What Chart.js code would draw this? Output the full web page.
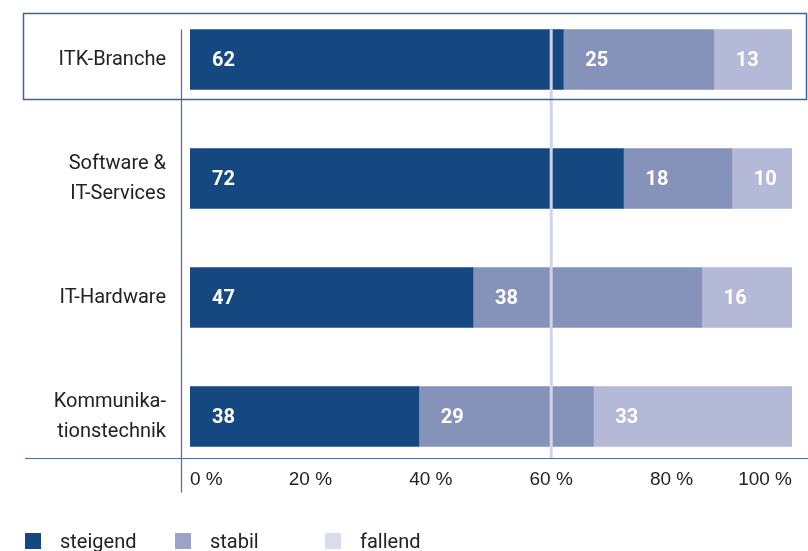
<!DOCTYPE html>
<html>
<head>
<meta charset="utf-8">
<script src="https://cdn.jsdelivr.net/npm/chart.js@4/dist/chart.umd.min.js"></script>
<style>
  body { margin: 0; background: #fff; }
  #wrap { position: relative; width: 808px; height: 551px; }
  #legend { position: absolute; left: 25px; top: 529px; display: flex;
    font-family: "Liberation Sans Narrow", "Roboto", sans-serif; font-size: 20px; color: #222; }
  #legend .item { display: flex; align-items: center; width: 150px; }
  #legend .box { width: 16px; height: 16px; margin-right: 19px; }
</style>
</head>
<body>
<div id="wrap">
  <canvas id="chart" width="808" height="551"></canvas>
  <div id="legend"></div>
</div>
<script>
const categories = ['ITK-Branche', ['Software &', 'IT-Services'], 'IT-Hardware', ['Kommunika-', 'tionstechnik']]
const steigend = [62, 72, 47, 38]
const stabil = [25, 18, 38, 29]
const fallend = [13, 10, 16, 33]
const xTicks = [0, 20, 40, 60, 80, 100]
const markLine = 60

const seriesNames = ['steigend', 'stabil', 'fallend']
const seriesColors = ['#154880', '#8592ba', '#b3b9d6']
const legendColors = ['#154880', '#9ba3c8', '#d9dcea']

// decorations: row box, axis lines, 60% marker, value labels
const decor = {
  id: 'decor',
  afterLayout(chart) {
    // pull the x tick labels up close to the axis line
    chart.scales.x.top -= 8
  },
  afterDatasetsDraw(chart) {
    const { ctx, chartArea, scales } = chart
    const first = chart.getDatasetMeta(0).data[0]
    const last = chart.getDatasetMeta(0).data[categories.length - 1]
    const half = first.height / 2
    const axisY = last.y + half + 12
    ctx.save()
    // 60 % line
    const mx = scales.x.getPixelForValue(markLine)
    ctx.strokeStyle = '#d2d5e9'
    ctx.lineWidth = 3
    ctx.beginPath()
    ctx.moveTo(mx, first.y - half)
    ctx.lineTo(mx, axisY)
    ctx.stroke()
    // box round first row
    ctx.strokeStyle = '#3d64a0'
    ctx.lineWidth = 1.5
    ctx.strokeRect(23.5, first.y - half - 16, chart.width - 25, first.height + 26)
    // axis lines
    ctx.strokeStyle = '#4a6fa5'
    ctx.lineWidth = 1.2
    ctx.beginPath()
    ctx.moveTo(chartArea.left - 8.5, first.y - half)
    ctx.lineTo(chartArea.left - 8.5, axisY + 34)
    ctx.moveTo(25, axisY)
    ctx.lineTo(chart.width, axisY)
    ctx.stroke()
    // value labels
    ctx.fillStyle = '#fff'
    ctx.font = 'bold 20px Roboto, sans-serif'
    ctx.textBaseline = 'middle'
    ctx.textAlign = 'left'
    chart.data.datasets.forEach((ds, i) => {
      chart.getDatasetMeta(i).data.forEach((el, j) => {
        ctx.fillText(String(ds.data[j]), Math.min(el.base, el.x) + 22, el.y + 1)
      })
    })
    ctx.restore()
  }
}

new Chart(document.getElementById('chart'), {
  type: 'bar',
  data: {
    labels: categories,
    datasets: [steigend, stabil, fallend].map((d, i) => ({
      label: seriesNames[i],
      data: d,
      backgroundColor: seriesColors[i],
      borderWidth: 0,
      barThickness: 60
    }))
  },
  options: {
    indexAxis: 'y',
    responsive: false,
    animation: false,
    layout: { padding: { left: 0, right: 16, top: -3, bottom: 0 } },
    plugins: { legend: { display: false }, tooltip: { enabled: false } },
    scales: {
      x: {
        stacked: true,
        min: 0,
        max: 100,
        afterFit(s) {
          s.height = 75
          s.paddingLeft = 0
          s.paddingRight = 0
        },
        afterBuildTicks(s) { s.ticks = xTicks.map(v => ({ value: v })) },
        grid: { display: false, drawTicks: false },
        border: { display: false },
        ticks: {
          padding: 0,
          align: 'inner',
          color: '#222',
          font: { family: '"Liberation Sans Narrow", sans-serif', size: 19 },
          callback: v => v + ' %'
        }
      },
      y: {
        stacked: true,
        afterFit(s) {
          s.width = 190
          s.paddingTop = 0
          s.paddingBottom = 0
        },
        grid: { display: false, drawTicks: false },
        border: { display: false },
        ticks: {
          padding: 24,
          color: '#222',
          font: { family: 'Roboto, sans-serif', size: 20, lineHeight: 1.5 }
        }
      }
    }
  },
  plugins: [decor]
})

const legend = document.getElementById('legend')
seriesNames.forEach((n, i) => {
  const item = document.createElement('div')
  item.className = 'item'
  item.innerHTML = '<span class="box" style="background:' + legendColors[i] + '"></span>' + n
  legend.appendChild(item)
})
</script>
</body>
</html>
